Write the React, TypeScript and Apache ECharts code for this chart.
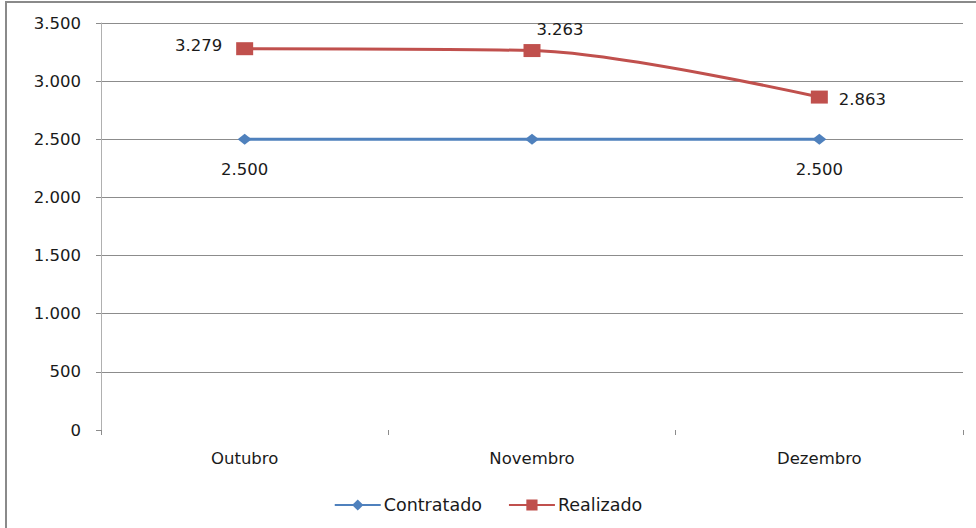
import React, { useEffect, useRef } from "react";
import * as echarts from "echarts";

const categories = ["Outubro", "Novembro", "Dezembro"];
const contratado = [2500, 2500, 2500];
const realizado = [3279, 3263, 2863];

const fmt = (v: number) => String(Math.round(v)).replace(/\B(?=(\d{3})+(?!\d))/g, ".");

const FONT = "DejaVu Sans";
const TXT = "#1a1a1a";
const GRID = "#8c8c8c";

export default function App() {
  const ref = useRef<HTMLDivElement>(null);
  useEffect(() => {
    if (!ref.current) return;
    const chart = echarts.init(ref.current, undefined, { renderer: "svg" });
    chart.setOption({
      animation: false,
      backgroundColor: "#ffffff",
      textStyle: { fontFamily: FONT },
      graphic: [
        {
          type: "rect",
          shape: { x: 6, y: 2, width: 1200, height: 800 },
          style: { fill: "none", stroke: "#8a8a8a", lineWidth: 2 },
          silent: true,
        },
      ],
      grid: { left: 101, right: 13, top: 23, bottom: 98 },
      legend: {
        bottom: 9,
        left: "center",
        itemWidth: 46,
        itemHeight: 14,
        itemGap: 26,
        textStyle: { fontFamily: FONT, fontSize: 17.5, color: TXT, padding: [0, 0, 0, -2] },
        data: ["Contratado", "Realizado"],
      },
      xAxis: {
        type: "category",
        data: categories,
        boundaryGap: true,
        axisLine: { show: false },
        axisTick: { show: true, length: 5, lineStyle: { color: GRID } },
        axisLabel: { fontFamily: FONT, fontSize: 16.5, color: TXT, margin: 20 },
      },
      yAxis: {
        type: "value",
        min: 0,
        max: 3500,
        interval: 500,
        axisLine: { show: true, lineStyle: { color: "#b0b0b0" } },
        axisTick: { show: true, length: 5, lineStyle: { color: GRID } },
        splitLine: { show: true, showMinLine: false, lineStyle: { color: GRID } },
        axisLabel: { fontFamily: FONT, fontSize: 16.5, color: TXT, margin: 20, formatter: (v: number) => fmt(v) },
      },
      series: [
        {
          name: "Contratado",
          type: "line",
          data: contratado.map((v, i) => ({ value: v, label: { show: i !== 1 } })),
          symbol: "diamond",
          symbolSize: [14, 11],
          lineStyle: { color: "#4F81BD", width: 3 },
          itemStyle: { color: "#4F81BD" },
          label: {
            show: true,
            position: "bottom",
            distance: 16,
            fontFamily: FONT,
            fontSize: 16.5,
            color: TXT,
            formatter: (p: any) => fmt(p.value),
          },
          z: 3,
        },
        {
          name: "Realizado",
          type: "line",
          data: realizado.map((v, i) => {
            const labels: any[] = [
              { position: "left", distance: 14, offset: [0, -3] },
              { position: "top", distance: 6, offset: [28, 0] },
              { position: "right", distance: 11, offset: [0, 2] },
            ];
            return { value: v, label: labels[i] };
          }),
          smooth: 0.3,
          symbol: "rect",
          symbolSize: [17, 13],
          lineStyle: { color: "#C0504D", width: 3 },
          itemStyle: { color: "#C0504D" },
          label: {
            show: true,
            fontFamily: FONT,
            fontSize: 16.5,
            color: TXT,
            formatter: (p: any) => fmt(p.value),
          },
          z: 4,
        },
      ],
    });
    return () => chart.dispose();
  }, []);
  return <div ref={ref} style={{ width: 976, height: 528, position: "absolute", left: 0, top: 0 }} />;
}
